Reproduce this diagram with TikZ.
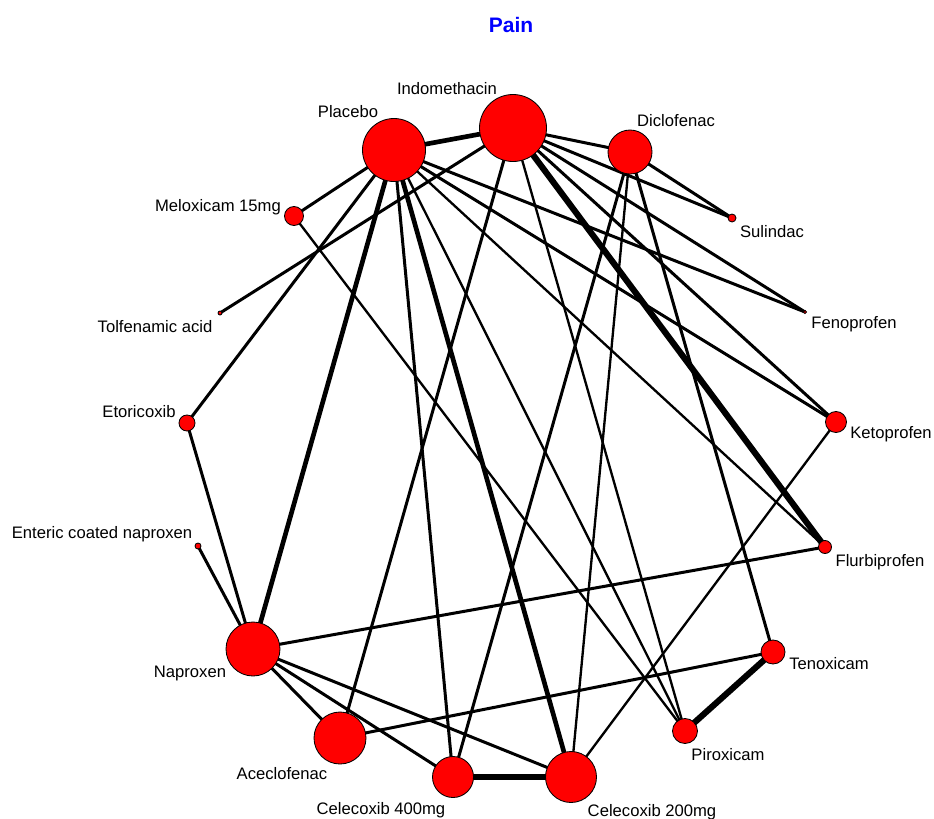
\documentclass[tikz,border=0pt]{standalone}
\usepackage{fontspec}
\setmainfont{Liberation Sans}
\usetikzlibrary{backgrounds}

\begin{document}
\begin{tikzpicture}[
  x=0.3mm, y=-0.3mm,
  font=\fontsize{14.2}{16}\selectfont,
  titre/.style={
    font=\fontsize{17.9}{20}\selectfont\bfseries,
    text=blue,
    inner sep=0pt
  },
  trt/.style={
    circle,
    draw=black,
    line width=0.25mm,
    fill=red,
    inner sep=0pt,
    minimum size=#1*0.6mm
  },
  nom/.style={
    text=black,
    inner sep=0pt,
    text height=0.72em,
    text depth=0pt,
    anchor=center
  },
  lienfin/.style={draw=black, line width=0.7mm},
  lien/.style={draw=black, line width=0.9mm},
  lienfort/.style={draw=black, line width=1.4mm},
  lienlourd/.style={draw=black, line width=1.85mm}
]
\useasboundingbox (0,0) rectangle (934,818);

% Titre
\node[titre] (titre) at (511,25) {Pain};

% Traitements
\node[trt=33.5] (indo)   at (513,128) {};
\node[trt=31.5] (plac)   at (394,150) {};
\node[trt=22]   (diclo)  at (630,152) {};
\node[trt=4]    (sulin)  at (732,218) {};
\node[trt=1.6]  (fenop)  at (805,312) {};
\node[trt=10.5] (ketop)  at (836,422) {};
\node[trt=6.5]  (flurb)  at (825,547) {};
\node[trt=12]   (tenox)  at (773,652) {};
\node[trt=12.5] (pirox)  at (685,731) {};
\node[trt=25.5] (cel200) at (571,777) {};
\node[trt=20.5] (cel400) at (453,777) {};
\node[trt=26]   (acecl)  at (340,738) {};
\node[trt=27]   (napro)  at (253,649) {};
\node[trt=3]    (ecnap)  at (198,546) {};
\node[trt=8]    (etori)  at (187,423) {};
\node[trt=2]    (tolfe)  at (220,313) {};
\node[trt=9.5]  (melox)  at (294,216) {};

% Noms
\node[nom] (t-indo)   at (447,90)  {Indomethacin};
\node[nom] (t-plac)   at (348,113) {Placebo};
\node[nom] (t-diclo)  at (676,122) {Diclofenac};
\node[nom] (t-melox)  at (218,207) {Meloxicam 15mg};
\node[nom] (t-sulin)  at (772,233) {Sulindac};
\node[nom] (t-tolfe)  at (155,328) {Tolfenamic acid};
\node[nom] (t-fenop)  at (854,324) {Fenoprofen};
\node[nom] (t-etori)  at (139,413) {Etoricoxib};
\node[nom] (t-ketop)  at (891,434) {Ketoprofen};
\node[nom] (t-ecnap)  at (102,534) {Enteric coated naproxen};
\node[nom] (t-flurb)  at (880,562) {Flurbiprofen};
\node[nom] (t-napro)  at (190,673) {Naproxen};
\node[nom] (t-tenox)  at (829,665) {Tenoxicam};
\node[nom] (t-acecl)  at (282,775) {Aceclofenac};
\node[nom] (t-pirox)  at (728,756) {Piroxicam};
\node[nom] (t-cel400) at (381,810) {Celecoxib 400mg};
\node[nom] (t-cel200) at (652,812) {Celecoxib 200mg};

% Comparaisons
\begin{scope}[on background layer]
\draw[lienlourd] (indo.center) -- (flurb.center);
\draw[lienlourd] (tenox.center) -- (pirox.center);
\draw[lienlourd] (cel400.center) -- (cel200.center);

\draw[lienfort] (plac.center) -- (indo.center);
\draw[lienfort] (plac.center) -- (napro.center);
\draw[lienfort] (plac.center) -- (cel200.center);

\draw[lien] (indo.center) -- (diclo.center);
\draw[lien] (indo.center) -- (sulin.center);
\draw[lien] (diclo.center) -- (sulin.center);
\draw[lien] (indo.center) -- (fenop.center);
\draw[lien] (plac.center) -- (fenop.center);
\draw[lien] (indo.center) -- (ketop.center);
\draw[lien] (plac.center) -- (ketop.center);
\draw[lien] (plac.center) -- (melox.center);
\draw[lien] (indo.center) -- (tolfe.center);
\draw[lien] (plac.center) -- (etori.center);
\draw[lien] (etori.center) -- (napro.center);
\draw[lien] (ecnap.center) -- (napro.center);
\draw[lien] (napro.center) -- (acecl.center);
\draw[lien] (napro.center) -- (cel400.center);
\draw[lien] (napro.center) -- (cel200.center);
\draw[lien] (napro.center) -- (flurb.center);
\draw[lien] (indo.center) -- (acecl.center);
\draw[lien] (acecl.center) -- (tenox.center);
\draw[lien] (plac.center) -- (cel400.center);
\draw[lien] (diclo.center) -- (cel400.center);
\draw[lien] (diclo.center) -- (tenox.center);

\draw[lienfin] (melox.center) -- (pirox.center);
\draw[lienfin] (plac.center) -- (pirox.center);
\draw[lienfin] (indo.center) -- (pirox.center);
\draw[lienfin] (diclo.center) -- (cel200.center);
\draw[lienfin] (ketop.center) -- (cel200.center);
\draw[lienfin] (plac.center) -- (flurb.center);
\end{scope}

\end{tikzpicture}
\end{document}
